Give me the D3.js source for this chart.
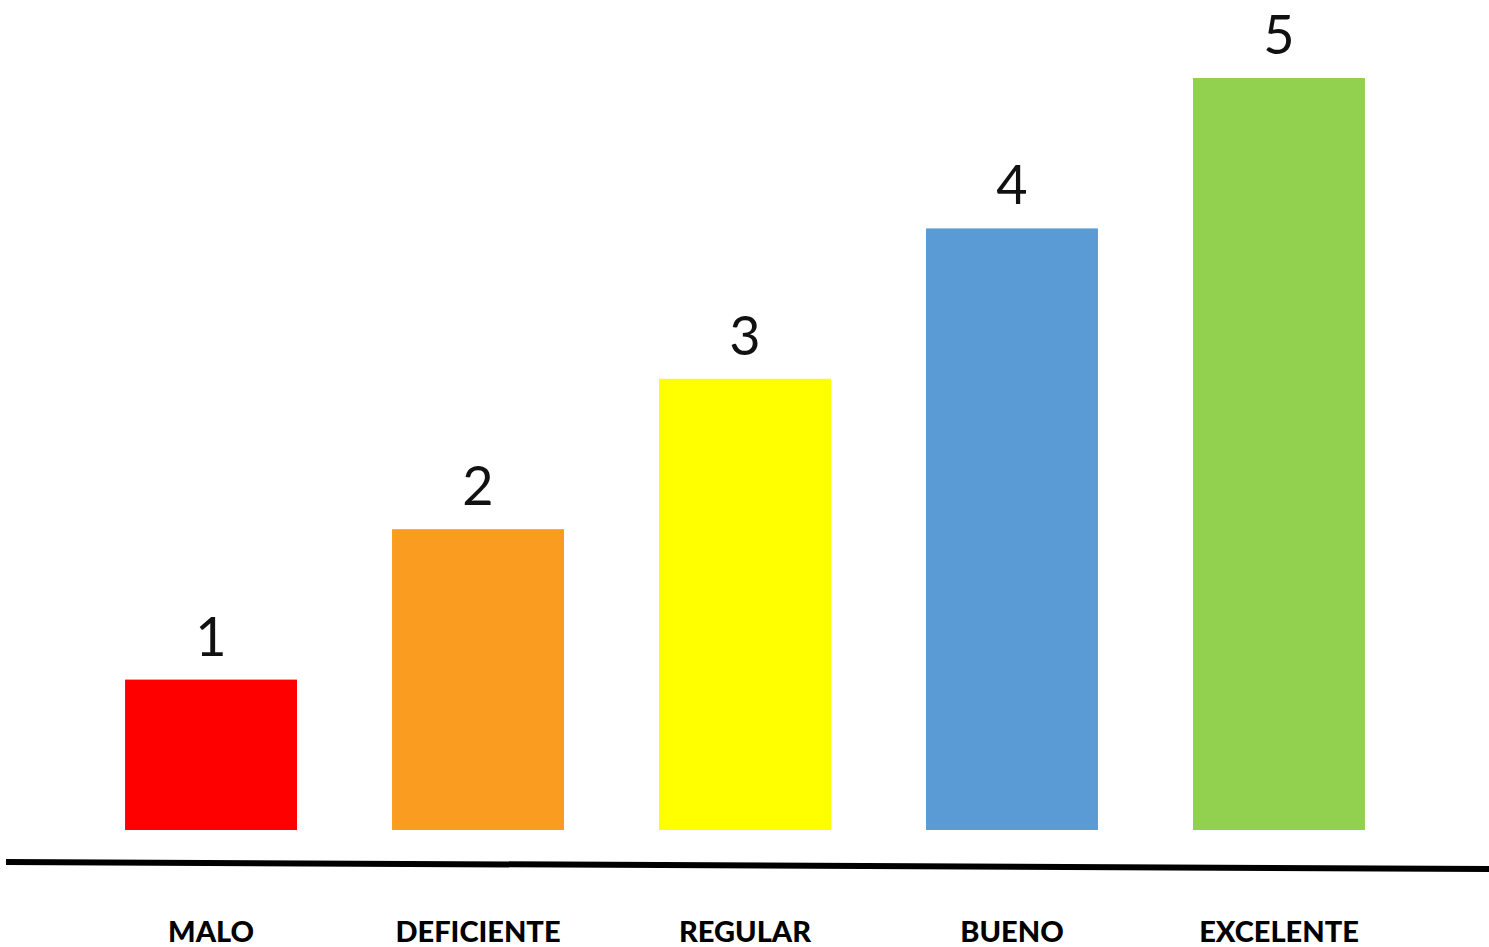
<!DOCTYPE html>
<html>
<head>
<meta charset="utf-8">
<script src="https://cdn.jsdelivr.net/npm/d3@7"></script>
<style>
  html, body { margin: 0; padding: 0; background: #fff; overflow: hidden; }
</style>
</head>
<body>
<div id="chart"></div>
<script>
// chart data
const categories = ["MALO", "DEFICIENTE", "REGULAR", "BUENO", "EXCELENTE"];
const values = [1, 2, 3, 4, 5];
const barColors = ["#ff0000", "#f99c1f", "#ffff00", "#5b9bd5", "#92d050"];

const width = 1489;
const height = 947;

const svg = d3.select("#chart")
  .append("svg")
  .attr("width", width)
  .attr("height", height)
  .attr("viewBox", [0, 0, width, height]);

const x = d3.scaleBand()
  .domain(categories)
  .range([30, 1460])
  .padding(0.356);

const y = d3.scaleLinear()
  .domain([0, 5])
  .range([830, 78]);

// bars
svg.append("g")
  .selectAll("rect")
  .data(values)
  .join("rect")
    .attr("x", (d, i) => x(categories[i]))
    .attr("y", d => y(d))
    .attr("width", x.bandwidth())
    .attr("height", d => y(0) - y(d))
    .attr("fill", (d, i) => barColors[i]);

// value labels above bars
svg.append("g")
  .selectAll("text")
  .data(values)
  .join("text")
    .attr("x", (d, i) => x(categories[i]) + x.bandwidth() / 2)
    .attr("y", d => y(d) - 24)
    .attr("text-anchor", "middle")
    .attr("font-family", "Lato, 'Open Sans', sans-serif")
    .attr("font-size", "54px")
    .attr("fill", "#111")
    .text(d => d);

// slightly tilted base line, as in the original
svg.append("line")
  .attr("x1", 6).attr("y1", 862)
  .attr("x2", width).attr("y2", 869)
  .attr("stroke", "#000")
  .attr("stroke-width", 6);

// category labels
const xAxis = g => {
  g
    .attr("transform", "translate(0, 942)")
    .call(d3.axisBottom(x).tickSize(0).tickPadding(0))
    .call(g => g.select(".domain").remove())
    .selectAll("text")
      .attr("dy", 0)
      .attr("y", 0)
      .attr("font-family", "Lato, 'Open Sans', sans-serif")
      .attr("font-weight", "900")
      .attr("font-size", "29px")
      .attr("fill", "#000");
};

svg.append("g").call(xAxis);
</script>
</body>
</html>
